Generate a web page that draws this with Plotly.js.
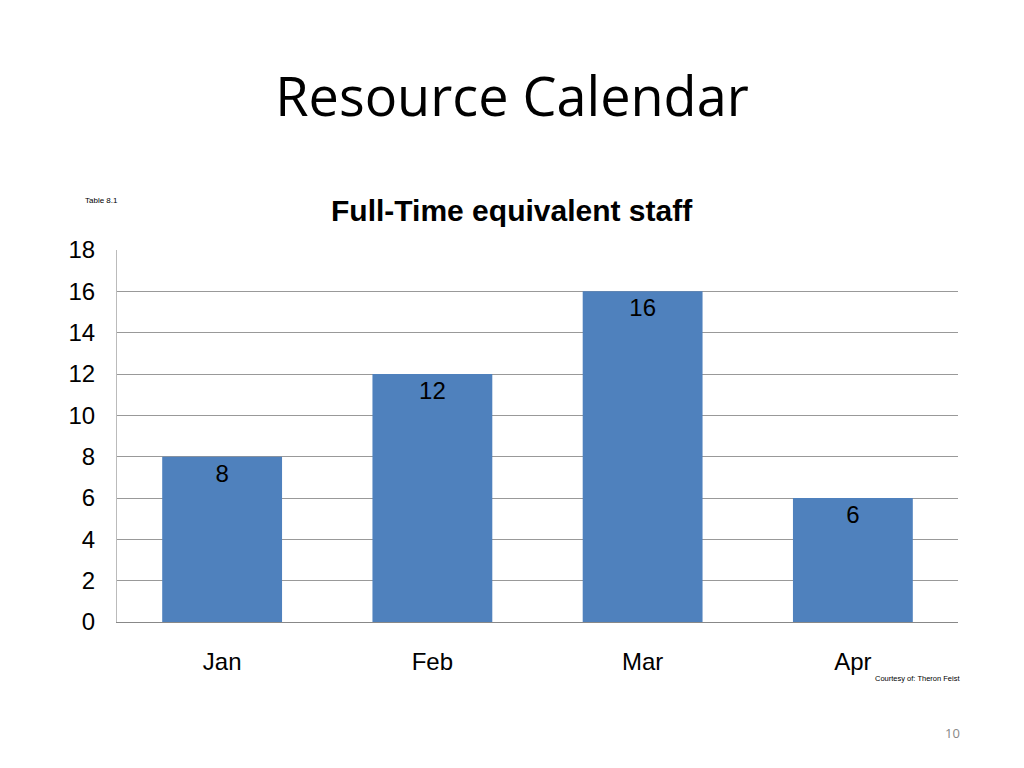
<!DOCTYPE html>
<html>
<head>
<meta charset="utf-8">
<script src="https://cdn.plot.ly/plotly-3.0.1.min.js"></script>
<style>
  html, body { margin: 0; padding: 0; background: #fff; }
  #chart { width: 1024px; height: 768px; }
</style>
</head>
<body>
<div id="chart"></div>
<script>
// staff per month
var months = ["Jan", "Feb", "Mar", "Apr"];
var staff = [8, 12, 16, 6];
var yTicks = [0, 2, 4, 6, 8, 10, 12, 14, 16, 18];

// pixel helpers for the plot area (117..958 x 250..622)
function px(x) { return (x - 117) / 841; }
function py(y) { return (622 - y) / 372; }

var bars = {
  x: months,
  y: staff,
  type: "bar",
  marker: { color: "#4F81BD" },
  text: staff.map(String),
  textposition: "inside",
  insidetextanchor: "end",
  textfont: { family: "Liberation Sans, Arial, sans-serif", size: 24, color: "#000" },
  hoverinfo: "x+y"
};

var layout = {
  width: 1024,
  height: 768,
  margin: { l: 117, r: 66, t: 250, b: 146 },
  paper_bgcolor: "#fff",
  plot_bgcolor: "#fff",
  showlegend: false,
  bargap: 0.43,
  title: {
    text: "Resource Calendar",
    font: { family: "Open Sans, sans-serif", size: 54, color: "#000" },
    x: 0.5, xanchor: "center",
    y: 1 - 97 / 768, yanchor: "middle", yref: "container"
  },
  xaxis: {
    type: "category",
    showline: true, linecolor: "#888", linewidth: 1,
    showgrid: false, ticks: "",
    ticklabelstandoff: 18,
    tickfont: { family: "Liberation Sans, Arial, sans-serif", size: 24, color: "#000" }
  },
  yaxis: {
    range: [0, 18],
    tickvals: yTicks,
    showline: true, linecolor: "#bbb", linewidth: 1,
    showgrid: true, gridcolor: "#999", gridwidth: 1,
    zeroline: false, ticks: "",
    ticklabelstandoff: 16,
    tickfont: { family: "Liberation Sans, Arial, sans-serif", size: 24, color: "#000" }
  },
  annotations: [
    {
      text: "<b>Full-Time equivalent staff</b>",
      xref: "paper", yref: "paper", x: px(512), y: py(210),
      xanchor: "center", yanchor: "middle", showarrow: false,
      font: { family: "Liberation Sans, Arial, sans-serif", size: 30, color: "#000" }
    },
    {
      text: "Table 8.1",
      xref: "paper", yref: "paper", x: px(83), y: py(201),
      xanchor: "left", yanchor: "middle", showarrow: false,
      font: { family: "Liberation Sans, Arial, sans-serif", size: 8, color: "#000" }
    },
    {
      text: "Courtesy of: Theron Feist",
      xref: "paper", yref: "paper", x: px(962), y: py(678),
      xanchor: "right", yanchor: "middle", showarrow: false,
      font: { family: "Liberation Sans, Arial, sans-serif", size: 7.5, color: "#000" }
    },
    {
      text: "10",
      xref: "paper", yref: "paper", x: px(962), y: py(733),
      xanchor: "right", yanchor: "middle", showarrow: false,
      font: { family: "Open Sans, sans-serif", size: 13, color: "#888" }
    }
  ]
};

Plotly.newPlot("chart", [bars], layout, { displayModeBar: false, staticPlot: true });
</script>
</body>
</html>
